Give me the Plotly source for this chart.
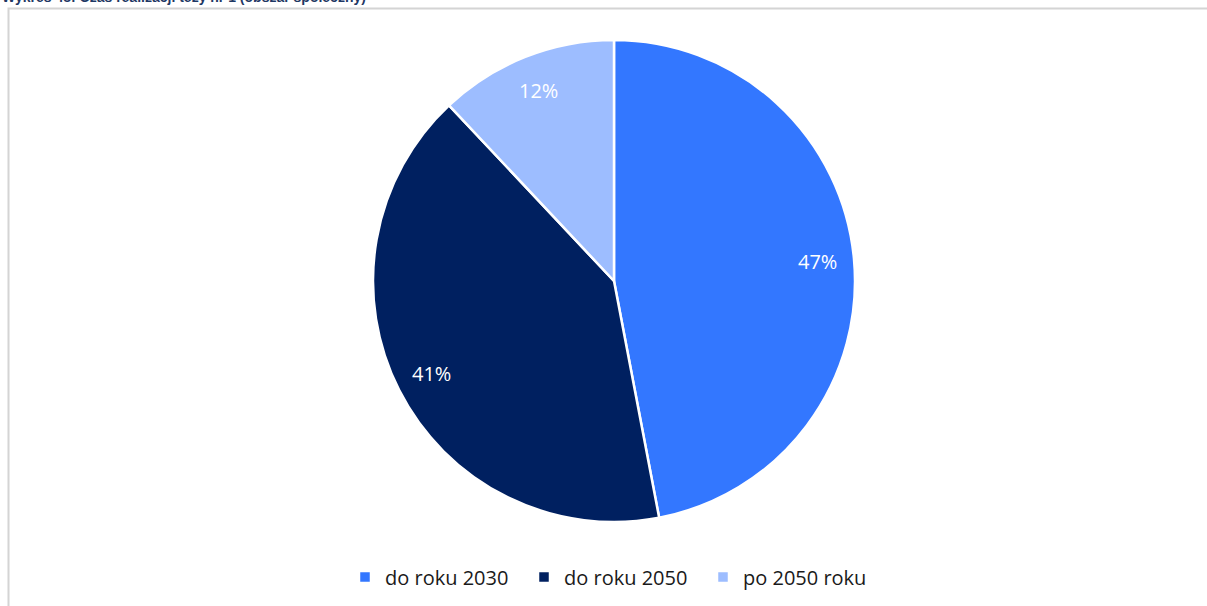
import math
import plotly.graph_objects as go

categories = ["do roku 2030", "do roku 2050", "po 2050 roku"]
values = [47, 41, 12]
colors = ["#3377FF", "#002060", "#9DBDFF"]
title_text = "Wykres 48: Czas realizacji tezy nr 1 (obszar społeczny)"

W, H = 1207, 606
cx, cy, R = 614, 281, 241
FONT = "Open Sans, Liberation Sans, sans-serif"

fig = go.Figure()
fig.add_trace(go.Pie(
    labels=categories, values=values, sort=False, direction="clockwise",
    rotation=0, marker=dict(colors=colors, line=dict(color="white", width=2.5)),
    textinfo="none", hoverinfo="label+percent",
    domain=dict(x=[(cx - R) / W, (cx + R) / W], y=[1 - (cy + R) / H, 1 - (cy - R) / H]),
))

# percentage labels placed along each slice's mid angle
total = sum(values)
cum = 0
annotations = []
for v in values:
    mid = (cum + v / 2) / total * 2 * math.pi
    cum += v
    r = 0.85 * R
    px = cx + r * math.sin(mid)
    py = cy - r * math.cos(mid)
    annotations.append(dict(
        x=px / W, y=1 - py / H, xref="paper", yref="paper",
        xanchor="center", yanchor="middle",
        text=f"{round(v / total * 100)}%", showarrow=False,
        font=dict(color="white", size=20, family=FONT),
    ))

annotations.append(dict(
    x=0, y=1 - 7 / H, xref="paper", yref="paper", xanchor="left", yanchor="bottom",
    text=f"<b>{title_text}</b>", showarrow=False,
    font=dict(color="#1F3864", size=14, family="Liberation Sans, Arial, sans-serif"),
))

fig.update_layout(
    width=W, height=H,
    margin=dict(l=0, r=0, t=0, b=0),
    paper_bgcolor="white", plot_bgcolor="white",
    annotations=annotations,
    showlegend=True,
    legend=dict(
        orientation="h", x=0.5 + 10 / W, xanchor="center", y=1 - 577 / H, yanchor="middle",
        font=dict(size=20, color="#1a1a1a", family=FONT),
        itemwidth=30, entrywidth=134, entrywidthmode="pixels",
    ),
    shapes=[dict(
        type="rect", xref="paper", yref="paper",
        x0=8.5 / W, x1=1.05, y0=-0.05, y1=1 - 8.5 / H,
        line=dict(color="#D4D4D4", width=2), fillcolor="rgba(0,0,0,0)", layer="below",
    )],
)

fig.write_html(
    "out.html",
    config={"displayModeBar": False},
    post_script="document.body.style.margin='0';document.body.style.overflow='hidden';",
)
